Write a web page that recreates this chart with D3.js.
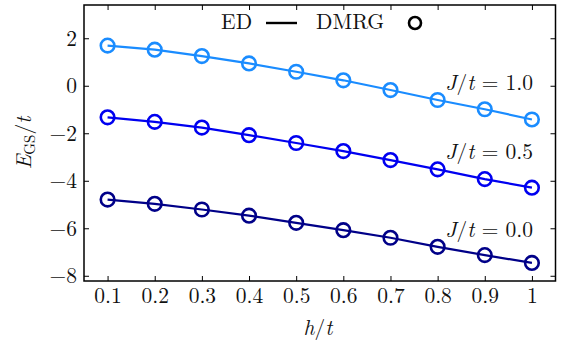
<!DOCTYPE html>
<html><head><meta charset="utf-8">
<script src="https://cdn.jsdelivr.net/npm/d3@7"></script>
<style>body{margin:0;background:#fff;} svg{display:block;}</style>
</head><body>
<svg id="c" width="561" height="345"></svg>
<script>
const hValues = [0.1,0.2,0.3,0.4,0.5,0.6,0.7,0.8,0.9,1.0];
const xTickLabels = ["0.1","0.2","0.3","0.4","0.5","0.6","0.7","0.8","0.9","1"];
const yTicks = [2,0,-2,-4,-6,-8];
const seriesJ10 = [1.69,1.52,1.25,0.94,0.59,0.23,-0.18,-0.60,-0.99,-1.42];
const seriesJ05 = [-1.33,-1.52,-1.76,-2.08,-2.41,-2.75,-3.13,-3.52,-3.93,-4.29];
const seriesJ00 = [-4.79,-4.97,-5.21,-5.47,-5.77,-6.08,-6.40,-6.78,-7.13,-7.46];
const seriesLabels = ["J/t = 1.0","J/t = 0.5","J/t = 0.0"];
const seriesColors = ["#1a8cff","#0000f0","#000088"];
const series = [seriesJ10, seriesJ05, seriesJ00];

const svg = d3.select("#c");
const L=84, R=555.5, T=5, B=281;
const x = d3.scaleLinear().domain([0.05,1.05]).range([L,R]);
const y = d3.scaleLinear().domain([-8.22,3.4]).range([B,T]);

const fs = 21.5;
const ff = "'Latin Modern Roman','Liberation Serif',serif";
const tc = "#111";
svg.append("rect").attr("x",L).attr("y",T).attr("width",R-L).attr("height",B-T)
  .attr("fill","none").attr("stroke","#000").attr("stroke-width",1.5);

const gB = svg.append("g").attr("transform",`translate(0,${B})`)
  .call(d3.axisBottom(x).tickValues(hValues).tickSize(-5).tickPadding(7).tickFormat((d,i)=>xTickLabels[i]));
const gT = svg.append("g").attr("transform",`translate(0,${T})`)
  .call(d3.axisTop(x).tickValues(hValues).tickSize(-5).tickFormat(""));
const gL = svg.append("g").attr("transform",`translate(${L},0)`)
  .call(d3.axisLeft(y).tickValues(yTicks).tickSize(-5).tickPadding(7).tickFormat(d=>d<0?"\u2212"+(-d):d));
const gR = svg.append("g").attr("transform",`translate(${R},0)`)
  .call(d3.axisRight(y).tickValues(yTicks).tickSize(-5).tickFormat(""));
[gB,gT,gL,gR].forEach(g=>{
  g.attr("font-family",null);
  g.select(".domain").remove();
  g.selectAll(".tick line").attr("stroke","#000").attr("stroke-width",1);
  g.selectAll("text").attr("font-size",fs).attr("fill",tc).style("font-family",ff);
});

const line = d3.line().x((d,i)=>x(hValues[i])).y(d=>y(d));
series.forEach((s,k)=>{
  svg.append("path").datum(s).attr("d",line).attr("fill","none")
    .attr("stroke",seriesColors[k]).attr("stroke-width",2.2);
  svg.selectAll(null).data(s).enter().append("circle")
    .attr("cx",(d,i)=>x(hValues[i])).attr("cy",d=>y(d)).attr("r",6.8)
    .attr("fill","none").attr("stroke",seriesColors[k]).attr("stroke-width",2.6);
});

function txt(xp,yp,anchor){
  return svg.append("text").attr("x",xp).attr("y",yp).attr("text-anchor",anchor||"start")
    .attr("font-size",fs).attr("fill",tc).style("font-family",ff);
}

const labY = [90,159,237];
seriesLabels.forEach((lab,k)=>{
  const t = txt(533,labY[k],"end");
  t.append("tspan").attr("font-style","italic").text("J");
  t.append("tspan").text("/");
  t.append("tspan").attr("font-style","italic").text("t");
  t.append("tspan").text(lab.slice(3));
});

txt(221,29).text("ED");
svg.append("line").attr("x1",266).attr("x2",297).attr("y1",23).attr("y2",23).attr("stroke","#000").attr("stroke-width",2.4);
txt(316,29).text("DMRG");
svg.append("circle").attr("cx",415).attr("cy",23).attr("r",6).attr("fill","none").attr("stroke","#000").attr("stroke-width",2.6);

const xl = txt(318,335,"middle");
xl.append("tspan").attr("font-style","italic").text("h");
xl.append("tspan").text("/");
xl.append("tspan").attr("font-style","italic").text("t");

const yl = svg.append("text").attr("transform","translate(31,143) rotate(-90)").attr("text-anchor","middle")
  .attr("font-size",fs).attr("fill",tc).style("font-family",ff);
yl.append("tspan").attr("font-style","italic").text("E");
yl.append("tspan").attr("font-size",15).attr("dy",4).text("GS");
yl.append("tspan").attr("dy",-4).text("/");
yl.append("tspan").attr("font-style","italic").text("t");
</script>
</body></html>
